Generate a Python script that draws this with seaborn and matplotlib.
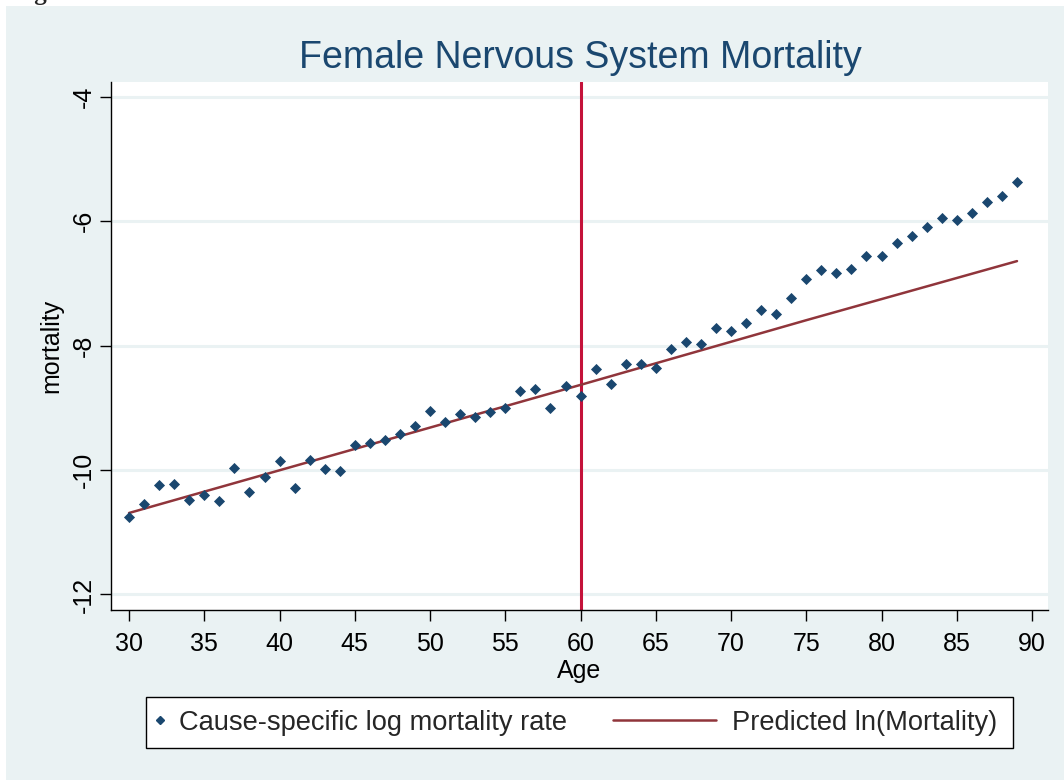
import numpy as np
import pandas as pd
import matplotlib
matplotlib.use("Agg")
import matplotlib.pyplot as plt
from matplotlib.lines import Line2D
from matplotlib.patches import Rectangle
import seaborn as sns

# ---- data ----
ages = list(range(30, 90))
log_mortality = [
    -10.75, -10.54, -10.24, -10.22, -10.48, -10.40, -10.50, -9.96, -10.35, -10.11,
    -9.85, -10.29, -9.84, -9.98, -10.01, -9.60, -9.56, -9.51, -9.42, -9.29,
    -9.05, -9.22, -9.10, -9.14, -9.06, -9.00, -8.73, -8.69, -9.00, -8.65,
    -8.81, -8.37, -8.61, -8.29, -8.29, -8.36, -8.05, -7.94, -7.97, -7.71,
    -7.76, -7.63, -7.42, -7.49, -7.23, -6.93, -6.78, -6.83, -6.77, -6.56,
    -6.56, -6.35, -6.23, -6.09, -5.95, -5.98, -5.86, -5.69, -5.59, -5.37,
]
pred_ages = [30, 45, 60, 75, 89]
pred_values = [-10.69, -9.66, -8.63, -7.59, -6.64]
cutoff_age = 60
x_ticks = list(range(30, 95, 5))
y_ticks = [-4, -6, -8, -10, -12]
title = "Female Nervous System Mortality"
x_label = "Age"
y_label = "mortality"
legend_labels = ["Cause-specific log mortality rate", "Predicted ln(Mortality)"]

df_pts = pd.DataFrame({"age": ages, "mortality": log_mortality})
df_pred = pd.DataFrame({"age": pred_ages, "pred": pred_values})

# ---- style ----
sns.set_theme(style="white")
plt.rcParams["font.family"] = ["Liberation Sans", "DejaVu Sans"]

BG = "#eaf2f3"
NAVY = "#1a476f"
MAROON = "#90353b"
CRIMSON = "#c4123a"

W, H = 1064, 780
fig = plt.figure(figsize=(W / 100, H / 100), dpi=100, facecolor="white")
fig.patches.append(Rectangle((6 / W, 0), 1 - 6 / W, 1 - 6 / H,
                             transform=fig.transFigure, facecolor=BG,
                             edgecolor="none", zorder=-10))
fig.text(12 / W, 1.0, "Figure 5", fontsize=18, fontweight="bold",
         family=["Liberation Serif", "DejaVu Serif"], va="baseline", ha="left")

ax = fig.add_axes([111 / W, 1 - 610 / H, (1048 - 111) / W, (610 - 82) / H])
ax.set_facecolor("white")

for yt in y_ticks:
    ax.axhline(yt, color=BG, lw=2.2, zorder=0)

ax.axvline(cutoff_age, color=CRIMSON, lw=2.2, zorder=1)

sns.lineplot(data=df_pred, x="age", y="pred", ax=ax, color=MAROON, lw=1.8,
             zorder=2, legend=False)
sns.scatterplot(data=df_pts, x="age", y="mortality", ax=ax, marker="D",
                s=32, color=NAVY, edgecolor=NAVY, linewidth=0, zorder=3,
                legend=False)

ax.set_xlim(28.8, 91.06)
ax.set_ylim(-12.25, -3.76)
ax.set_xticks(x_ticks)
ax.set_yticks(y_ticks)
ax.set_xticklabels([str(t) for t in x_ticks], fontsize=18)
ax.set_yticklabels([str(t) for t in y_ticks], fontsize=18, rotation=90,
                   va="center")
ax.tick_params(axis="both", direction="out", length=8, width=1,
               color="black", labelcolor="black")
ax.tick_params(axis="x", bottom=True, pad=8)
ax.tick_params(axis="y", left=True, pad=3)
for side in ["top", "right"]:
    ax.spines[side].set_visible(False)
for side in ["left", "bottom"]:
    ax.spines[side].set_visible(True)
    ax.spines[side].set_color("black")
    ax.spines[side].set_linewidth(1)

ax.set_xlabel(x_label, fontsize=18, color="black", labelpad=2)
ax.set_ylabel(y_label, fontsize=18, color="black", labelpad=6)
fig.text(580 / W, 1 - 58 / H, title, fontsize=27, color=NAVY,
         ha="center", va="center")

# legend frame
lx0, lx1, ly0, ly1 = 146, 1013, 697, 748
fig.patches.append(Rectangle((lx0 / W, 1 - ly1 / H), (lx1 - lx0) / W,
                             (ly1 - ly0) / H, transform=fig.transFigure,
                             facecolor="white", edgecolor="black", lw=1,
                             zorder=5))
h1 = Line2D([], [], marker="D", color=NAVY, ls="none", markersize=4.5)
h2 = Line2D([], [], color=MAROON, lw=1.8)
leg1 = fig.legend([h1], [legend_labels[0]], loc="center left",
                  bbox_to_anchor=(152 / W, 1 - 723 / H), frameon=False,
                  fontsize=19.6, handlelength=0.58, handletextpad=0.41,
                  borderaxespad=0, borderpad=0)
leg2 = fig.legend([h2], [legend_labels[1]], loc="center left",
                  bbox_to_anchor=(613 / W, 1 - 723 / H), frameon=False,
                  fontsize=19.6, handlelength=3.78, handletextpad=0.58,
                  borderaxespad=0, borderpad=0)
for lg in (leg1, leg2):
    lg.set_zorder(6)

fig.savefig("out.png", dpi=100, facecolor="white")
